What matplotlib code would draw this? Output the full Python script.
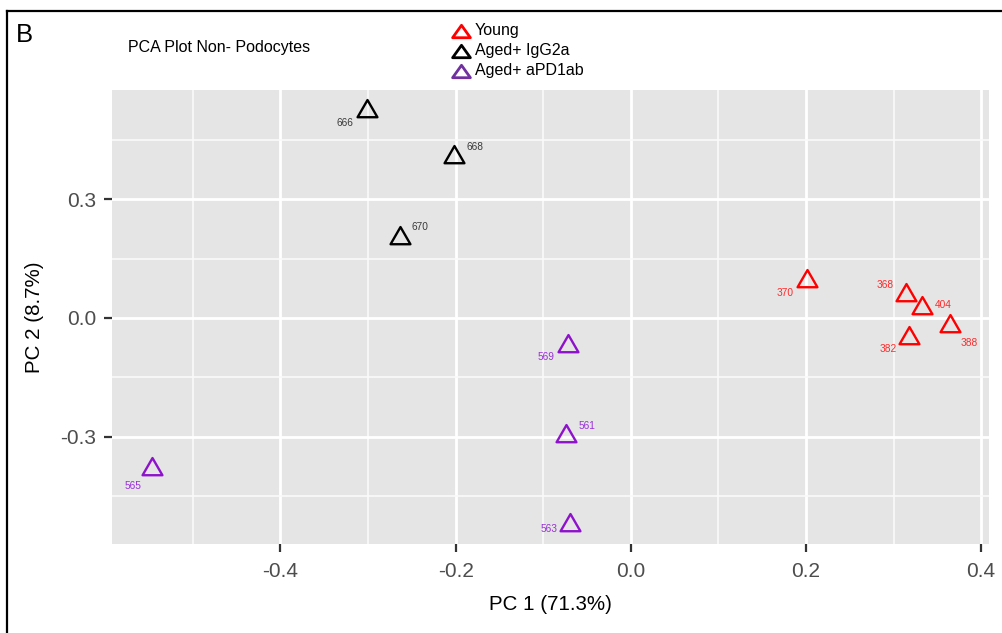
import matplotlib
matplotlib.use("Agg")
import matplotlib.pyplot as plt
from matplotlib.lines import Line2D
from matplotlib.path import Path
from matplotlib.markers import MarkerStyle
from matplotlib.ticker import FixedLocator, FormatStrFormatter

plt.rcParams['font.family'] = ['Liberation Sans', 'DejaVu Sans']
plt.rcParams['axes.unicode_minus'] = False

# ---- data -------------------------------------------------------------
sample_ids = ["666", "668", "670",
              "370", "368", "404", "388", "382",
              "569", "561", "563", "565"]
groups = ["Aged+ IgG2a"] * 3 + ["Young"] * 5 + ["Aged+ aPD1ab"] * 4
pc1 = [-0.301, -0.202, -0.264,
       0.201, 0.314, 0.333, 0.365, 0.318,
       -0.072, -0.074, -0.069, -0.547]
pc2 = [0.522, 0.406, 0.201,
       0.093, 0.057, 0.024, -0.021, -0.050,
       -0.072, -0.298, -0.523, -0.382]

x_ticks = [-0.4, -0.2, 0.0, 0.2, 0.4]
y_ticks = [-0.3, 0.0, 0.3]
x_minor = [-0.5, -0.3, -0.1, 0.1, 0.3]
y_minor = [-0.45, -0.15, 0.15, 0.45]

legend_order = ["Young", "Aged+ IgG2a", "Aged+ aPD1ab"]

# ---- styling ----------------------------------------------------------
point_color = {"Young": "#FF0000", "Aged+ IgG2a": "#000000", "Aged+ aPD1ab": "#8E12CC"}
text_color = {"Young": "#FF2A2A", "Aged+ IgG2a": "#3A3A3A", "Aged+ aPD1ab": "#9A30D8"}
legend_color = {"Young": "#FF0000", "Aged+ IgG2a": "#000000", "Aged+ aPD1ab": "#7030A0"}

# label offsets (pixels, +x right, +y down) so the ids sit beside their points
label_offset = {
    "666": (-22, 11.6), "668": (21, -10.5), "670": (20.7, -11),
    "370": (-21.7, 11.7), "368": (-20.7, -10.3), "404": (21, -3.6),
    "388": (18.7, 16.4), "382": (-20.7, 11.2),
    "569": (-21.7, 10.7), "561": (20.7, -10), "563": (-21, 4.3),
    "565": (-18.4, 16.5),
}

# open triangle with its centroid on the data point
tri_path = Path([(0, 1), (-0.8660, -0.5), (0.8660, -0.5), (0, 1)],
                [Path.MOVETO, Path.LINETO, Path.LINETO, Path.CLOSEPOLY])
tri_marker = MarkerStyle(tri_path, joinstyle="miter")
leg_path = Path([(0, 0.7), (-1, -0.7), (1, -0.7), (0, 0.7)],
                [Path.MOVETO, Path.LINETO, Path.LINETO, Path.CLOSEPOLY])
leg_marker = MarkerStyle(leg_path, joinstyle="miter")

W, H = 1002, 633
fig = plt.figure(figsize=(W / 100, H / 100), dpi=100)
ax = fig.add_axes([112.3 / W, 1 - 544 / H, (989 - 112.3) / W, (544 - 90) / H])

ax.set_facecolor("#E5E5E5")
for s in ax.spines.values():
    s.set_visible(False)
ax.set_xlim(-0.592, 0.409)
ax.set_ylim(-0.571, 0.576)

ax.xaxis.set_major_locator(FixedLocator(x_ticks))
ax.yaxis.set_major_locator(FixedLocator(y_ticks))
ax.xaxis.set_minor_locator(FixedLocator(x_minor))
ax.yaxis.set_minor_locator(FixedLocator(y_minor))
ax.xaxis.set_major_formatter(FormatStrFormatter("%.1f"))
ax.yaxis.set_major_formatter(FormatStrFormatter("%.1f"))
ax.grid(which="major", color="white", linewidth=2.0)
ax.grid(which="minor", color="#FAFAFA", linewidth=1.2)
ax.set_axisbelow(True)
ax.tick_params(which="major", length=5.8, width=1.6, color="#333333",
               labelcolor="#4D4D4D", labelsize=15)
ax.tick_params(axis="x", pad=7)
ax.tick_params(axis="y", pad=6)
ax.tick_params(which="minor", length=0)

for sid, g, x, y in zip(sample_ids, groups, pc1, pc2):
    ax.plot([x], [y], linestyle="none", marker=tri_marker, markersize=16.5,
            markerfacecolor="none", markeredgecolor=point_color[g],
            markeredgewidth=1.7, zorder=3)
    dx, dy = label_offset[sid]
    ax.annotate(sid, (x, y), xytext=(dx, -dy), textcoords="offset pixels",
                ha="center", va="center", fontsize=7.3, color=text_color[g],
                zorder=4)

# axis titles
fig.text(550.7 / W, 1 - 604 / H, "PC 1 (71.3%)", ha="center", va="center",
         fontsize=14.8, color="black")
fig.text(35 / W, 1 - 317 / H, "PC 2 (8.7%)", ha="center", va="center",
         rotation=90, fontsize=14.8, color="black")

# panel letter and title
fig.text(16 / W, 1 - 35.5 / H, "B", ha="left", va="center", fontsize=18.5)
fig.text(128 / W, 1 - 47.5 / H, "PCA Plot Non- Podocytes", ha="left",
         va="center", fontsize=11.5)

# legend
for i, name in enumerate(legend_order):
    yy = 1 - (31 + 20 * i) / H
    fig.add_artist(Line2D([461 / W], [yy], transform=fig.transFigure,
                          linestyle="none", marker=leg_marker, markersize=12.8,
                          markerfacecolor="none",
                          markeredgecolor=legend_color[name],
                          markeredgewidth=2.0))
    fig.text(475 / W, yy, name, ha="left", va="center", fontsize=11.5)

# frame around the figure panel
fig.add_artist(Line2D([6.5 / W, 1.0], [1 - 11 / H, 1 - 11 / H],
                      transform=fig.transFigure, color="black", linewidth=1.6))
fig.add_artist(Line2D([6.5 / W, 6.5 / W], [0, 1 - 11 / H],
                      transform=fig.transFigure, color="black", linewidth=1.6))

fig.savefig("out.png", dpi=100)
